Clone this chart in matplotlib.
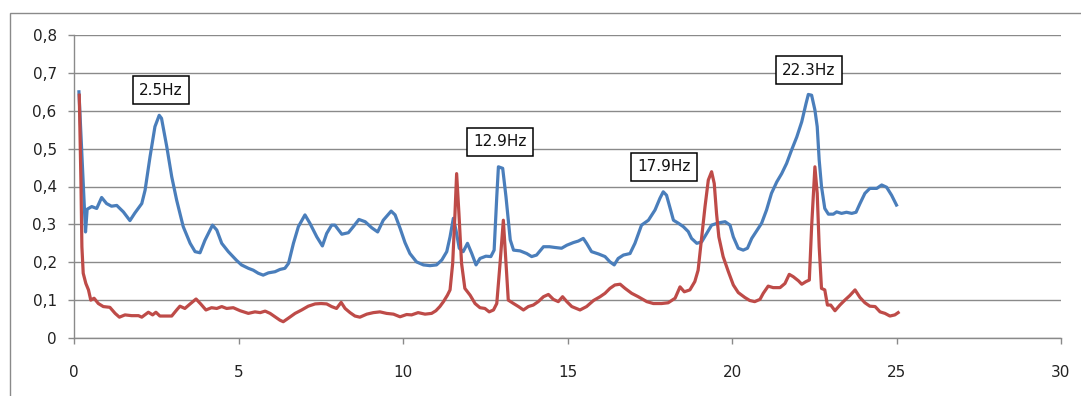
import matplotlib
matplotlib.use('Agg')
import matplotlib.pyplot as plt
from matplotlib.patches import Rectangle

# spectrum of the two channels (frequency in Hz, amplitude)
blue_f = [0.15, 0.35, 0.4, 0.54, 0.69, 0.84, 0.99, 1.14, 1.3, 1.5,
          1.7, 1.85, 2.06, 2.16, 2.31, 2.46, 2.59, 2.66, 2.82, 2.97,
          3.12, 3.32, 3.53, 3.68, 3.83, 3.98, 4.21, 4.34, 4.49, 4.69,
          4.94, 5.09, 5.3, 5.45, 5.6, 5.75, 5.91, 6.11, 6.26, 6.41,
          6.52, 6.67, 6.82, 7.02, 7.17, 7.38, 7.55, 7.68, 7.83, 7.93,
          8.14, 8.34, 8.49, 8.66, 8.85, 9.05, 9.23, 9.4, 9.64, 9.76,
          9.91, 10.06, 10.21, 10.41, 10.62, 10.82, 11.02, 11.18, 11.33, 11.43,
          11.53, 11.61, 11.71, 11.83, 11.96, 12.09, 12.22, 12.34, 12.52, 12.67,
          12.77, 12.85, 12.9, 13.03, 13.13, 13.26, 13.36, 13.56, 13.76, 13.91,
          14.06, 14.27, 14.45, 14.62, 14.82, 14.98, 15.18, 15.33, 15.48, 15.58,
          15.73, 15.94, 16.14, 16.29, 16.42, 16.54, 16.7, 16.9, 17.05, 17.25,
          17.46, 17.66, 17.81, 17.91, 18.01, 18.12, 18.22, 18.37, 18.52, 18.67,
          18.77, 18.93, 19.08, 19.23, 19.38, 19.59, 19.79, 19.94, 20.04, 20.19,
          20.34, 20.47, 20.6, 20.75, 20.9, 21.05, 21.2, 21.36, 21.51, 21.66,
          21.81, 21.97, 22.12, 22.25, 22.32, 22.42, 22.52, 22.59, 22.65, 22.72,
          22.82, 22.93, 23.08, 23.18, 23.33, 23.48, 23.64, 23.77, 23.89, 24.04,
          24.19, 24.4, 24.55, 24.7, 24.85, 25.0]
blue_v = [0.65, 0.28, 0.34, 0.347, 0.342, 0.371, 0.355, 0.348, 0.35, 0.333,
          0.31, 0.33, 0.355, 0.39, 0.478, 0.558, 0.588, 0.58, 0.505, 0.426,
          0.364, 0.294, 0.25, 0.228, 0.225, 0.258, 0.298, 0.285, 0.25, 0.228,
          0.205, 0.193, 0.184, 0.179, 0.171, 0.166, 0.172, 0.175, 0.181, 0.184,
          0.197, 0.25, 0.294, 0.325, 0.303, 0.267, 0.243, 0.276, 0.298, 0.298,
          0.274, 0.278, 0.294, 0.313, 0.307, 0.291, 0.28, 0.311, 0.335, 0.325,
          0.29, 0.252, 0.223, 0.201, 0.193, 0.191, 0.193, 0.206, 0.228, 0.267,
          0.316, 0.285, 0.237, 0.228, 0.25, 0.223, 0.193, 0.21, 0.216, 0.215,
          0.232, 0.373, 0.452, 0.448, 0.373, 0.259, 0.232, 0.23, 0.223, 0.215,
          0.219, 0.241, 0.241, 0.239, 0.237, 0.245, 0.252, 0.256, 0.263, 0.25,
          0.228, 0.222, 0.215, 0.201, 0.193, 0.21, 0.219, 0.223, 0.25, 0.298,
          0.311, 0.338, 0.369, 0.386, 0.377, 0.342, 0.311, 0.303, 0.294, 0.281,
          0.263, 0.25, 0.254, 0.276, 0.298, 0.304, 0.307, 0.298, 0.267, 0.237,
          0.232, 0.237, 0.263, 0.283, 0.303, 0.338, 0.382, 0.412, 0.434, 0.461,
          0.496, 0.531, 0.571, 0.619, 0.643, 0.641, 0.602, 0.558, 0.47, 0.4,
          0.342, 0.327, 0.327, 0.333, 0.329, 0.332, 0.329, 0.332, 0.355, 0.382,
          0.395, 0.395, 0.404, 0.398, 0.377, 0.351]

red_f = [0.16, 0.21, 0.24, 0.28, 0.36, 0.44, 0.51, 0.61, 0.74, 0.89,
         1.09, 1.25, 1.38, 1.55, 1.75, 1.96, 2.06, 2.26, 2.39, 2.49,
         2.61, 2.82, 2.97, 3.12, 3.22, 3.37, 3.53, 3.71, 3.85, 4.01,
         4.18, 4.34, 4.49, 4.64, 4.84, 5.05, 5.3, 5.5, 5.66, 5.81,
         5.96, 6.11, 6.26, 6.36, 6.51, 6.72, 6.92, 7.12, 7.33, 7.51,
         7.68, 7.83, 7.98, 8.12, 8.24, 8.39, 8.54, 8.69, 8.9, 9.1,
         9.3, 9.5, 9.71, 9.91, 10.11, 10.26, 10.46, 10.67, 10.87, 11.0,
         11.12, 11.23, 11.35, 11.43, 11.51, 11.58, 11.63, 11.7, 11.78, 11.88,
         12.04, 12.19, 12.34, 12.49, 12.62, 12.75, 12.85, 12.95, 13.05, 13.13,
         13.2, 13.36, 13.51, 13.66, 13.81, 13.96, 14.11, 14.27, 14.42, 14.57,
         14.72, 14.85, 14.98, 15.13, 15.38, 15.58, 15.79, 15.99, 16.14, 16.29,
         16.44, 16.6, 16.75, 16.95, 17.15, 17.41, 17.61, 17.86, 18.06, 18.27,
         18.42, 18.55, 18.72, 18.87, 18.97, 19.08, 19.18, 19.28, 19.38, 19.46,
         19.53, 19.6, 19.73, 19.89, 20.04, 20.19, 20.39, 20.54, 20.69, 20.85,
         20.95, 21.1, 21.25, 21.46, 21.61, 21.74, 21.86, 22.02, 22.12, 22.25,
         22.35, 22.42, 22.52, 22.59, 22.65, 22.72, 22.82, 22.9, 23.0, 23.13,
         23.28, 23.43, 23.58, 23.74, 23.89, 24.04, 24.19, 24.35, 24.5, 24.65,
         24.8, 24.95, 25.05]
red_v = [0.641, 0.417, 0.241, 0.171, 0.144, 0.127, 0.1, 0.105, 0.091, 0.083,
         0.081, 0.065, 0.055, 0.061, 0.059, 0.059, 0.055, 0.068, 0.061, 0.068,
         0.058, 0.058, 0.058, 0.074, 0.084, 0.078, 0.09, 0.103, 0.09, 0.074,
         0.08, 0.078, 0.083, 0.078, 0.08, 0.072, 0.065, 0.069, 0.067, 0.071,
         0.065, 0.056, 0.047, 0.043, 0.052, 0.065, 0.074, 0.084, 0.09, 0.091,
         0.09, 0.083, 0.078, 0.094, 0.078, 0.067, 0.058, 0.055, 0.063, 0.067,
         0.069, 0.065, 0.063, 0.056, 0.062, 0.061, 0.067, 0.063, 0.065, 0.072,
         0.083, 0.096, 0.113, 0.127, 0.197, 0.329, 0.434, 0.329, 0.197, 0.131,
         0.113, 0.091, 0.08, 0.078, 0.069, 0.074, 0.091, 0.197, 0.311, 0.197,
         0.1, 0.091, 0.083, 0.074, 0.083, 0.087, 0.096, 0.109, 0.115, 0.102,
         0.096, 0.109, 0.096, 0.083, 0.074, 0.083, 0.099, 0.109, 0.118, 0.131,
         0.14, 0.142, 0.131, 0.118, 0.109, 0.096, 0.091, 0.091, 0.093, 0.105,
         0.135, 0.122, 0.127, 0.149, 0.179, 0.267, 0.347, 0.417, 0.439, 0.408,
         0.329, 0.267, 0.215, 0.175, 0.14, 0.12, 0.107, 0.099, 0.096, 0.102,
         0.118, 0.137, 0.133, 0.133, 0.144, 0.168, 0.162, 0.151, 0.142, 0.149,
         0.153, 0.294, 0.452, 0.382, 0.241, 0.131, 0.127, 0.087, 0.087, 0.072,
         0.087, 0.1, 0.112, 0.127, 0.107, 0.093, 0.084, 0.083, 0.069, 0.065,
         0.058, 0.061, 0.067]

assert len(blue_f) == len(blue_v) and len(red_f) == len(red_v)

# peak labels
peak_labels = ['2.5Hz', '12.9Hz', '17.9Hz', '22.3Hz']
label_x = [2.64, 12.95, 17.93, 22.34]
label_y = [0.654, 0.518, 0.452, 0.707]

x_ticks = [0, 5, 10, 15, 20, 25, 30]
y_ticks = [0, 0.1, 0.2, 0.3, 0.4, 0.5, 0.6, 0.7, 0.8]

grey = '#8a8a8a'
plt.rcParams['font.family'] = ['DejaVu Sans']

fig = plt.figure(figsize=(10.81, 3.96), dpi=100)
# chart area frame
fig.patches.append(Rectangle((10 / 1081, -0.1), 1.2, 0.967 + 0.1,
                             transform=fig.transFigure, fill=False,
                             edgecolor=grey, linewidth=1.0))
ax = fig.add_axes([74 / 1081, 58 / 396, 987 / 1081, 303 / 396])

ax.plot(blue_f, blue_v, color='#4a7ebb', linewidth=2.3, solid_joinstyle='round', zorder=3)
ax.plot(red_f, red_v, color='#be4b48', linewidth=2.3, solid_joinstyle='round', zorder=4)

for txt, lx, ly in zip(peak_labels, label_x, label_y):
    ax.text(lx, ly, txt, ha='center', va='center', fontsize=11, color='#111111', zorder=5,
            bbox=dict(boxstyle='square,pad=0.42', facecolor='white', edgecolor='black', linewidth=1.1))

ax.set_xlim(0, 30)
ax.set_ylim(0, 0.8)
ax.set_xticks(x_ticks)
ax.set_yticks(y_ticks)
ax.set_xticklabels([str(t) for t in x_ticks])
ax.set_yticklabels([('%g' % t).replace('.', ',') for t in y_ticks])
ax.yaxis.grid(True, color=grey, linewidth=1.0)
ax.set_axisbelow(True)
for side in ['top', 'right']:
    ax.spines[side].set_visible(False)
for side in ['left', 'bottom']:
    ax.spines[side].set_color(grey)
    ax.spines[side].set_linewidth(1.0)
ax.tick_params(axis='both', color=grey, length=4.5, width=1.0, labelsize=11, labelcolor='#222222')
ax.tick_params(axis='y', pad=8)
ax.tick_params(axis='x', pad=15)

plt.savefig('out.png', dpi=100)
